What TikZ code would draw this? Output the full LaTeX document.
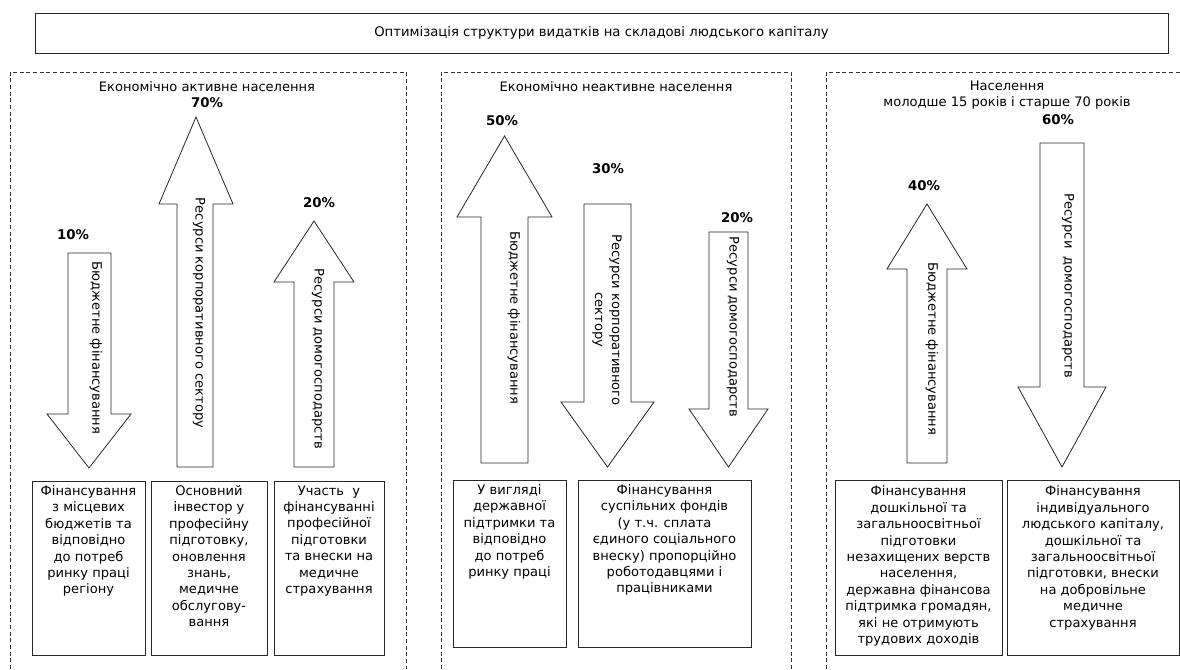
\documentclass[tikz,border=0pt]{standalone}
\usepackage{fontspec}
\setmainfont{DejaVu Sans}
\newcommand\myUp[7]{% shaft l, shaft r, head l, head r, tip y, head base y, bottom y
  \draw[arr] (#1,#7) -- (#1,#6) -- (#3,#6) -- ({(#3+#4)/2},#5) -- (#4,#6) -- (#2,#6) -- (#2,#7) -- cycle;}
\newcommand\myDown[7]{% shaft l, shaft r, head l, head r, tip y, head base y, top y
  \draw[arr] (#1,#7) -- (#1,#6) -- (#3,#6) -- ({(#3+#4)/2},#5) -- (#4,#6) -- (#2,#6) -- (#2,#7) -- cycle;}
\begin{document}
\begin{tikzpicture}[x=0.75pt,y=-0.75pt,
  line/.style={draw=black!85,line width=0.6pt},
  arr/.style={line,fill=white,line join=miter},
  grp/.style={draw=black!80,line width=0.6pt,dash pattern=on 3pt off 2pt},
  txt/.style={font={\fontsize{9.8}{12.3}\selectfont},inner sep=0pt,align=center,text=black},
  pct/.style={font={\fontsize{10}{12}\selectfont\bfseries},inner sep=0pt,text=black},
  vtxt/.style={txt,rotate=-90},
  box/.style={line,inner sep=0pt},
  btxt/.style={txt,anchor=north}]
\useasboundingbox (0,0) rectangle (1180,669);

% title
\node[line,minimum width=849.75pt,minimum height=30pt,inner sep=0pt,
  font={\fontsize{9.9}{11}\selectfont}] (title) at (601.5,33)
  {Оптимізація структури видатків на складові людського капіталу};

% dashed groups
\draw[grp] (10,669) -- (10,72) -- (406,72) -- (406,669);
\draw[grp] (441,669) -- (441,72) -- (791,72) -- (791,669);
\draw[grp] (826,669) -- (826,72) -- (1180,72);

% headers
\node[txt] (h1) at (207,87) {Економічно активне населення};
\node[txt] (h2) at (616,87) {Економічно неактивне населення};
\node[txt,font={\fontsize{9.8}{12}\selectfont}] (h3) at (1007,95) {Населення\\молодше 15 років і старше 70 років};

% arrows group 1
\myDown{68}{111}{47}{131}{468}{414}{253}
\myUp{177}{213}{159}{233}{117}{204}{467}
\myUp{294}{334}{274}{354}{221}{282}{467}
% arrows group 2
\myUp{481}{528}{457}{552}{136}{217}{463}
\myDown{584}{631}{561}{654}{467}{402}{204}
\myDown{709}{748}{689}{768}{467}{409}{232}
% arrows group 3
\myUp{907}{947}{887}{967}{204}{269}{463}
\myDown{1040}{1084}{1018}{1106}{467}{387}{143}

% percentages
\node[pct] (p1) at (73,235) {10\%};
\node[pct] (p2) at (207,103) {70\%};
\node[pct] (p3) at (319,203) {20\%};
\node[pct] (p4) at (502,121) {50\%};
\node[pct] (p5) at (608,169) {30\%};
\node[pct] (p6) at (737,218) {20\%};
\node[pct] (p7) at (924,186) {40\%};
\node[pct] (p8) at (1058,120) {60\%};

% arrow labels
\node[vtxt] (t1) at (96,348) {Бюджетне фінансування};
\node[vtxt] (t2) at (199,313) {Ресурси корпоративного сектору};
\node[vtxt] (t3) at (318,359) {Ресурси домогосподарств};
\node[vtxt] (t4) at (514,318) {Бюджетне фінансування};
\node[vtxt,font={\fontsize{9.8}{12.75}\selectfont}] (t5) at (607,320) {Ресурси корпоративного\\сектору};
\node[vtxt] (t6) at (733,327) {Ресурси домогосподарств};
\node[vtxt] (t7) at (932,349) {Бюджетне фінансування};
\node[vtxt] (t8) at (1068,286) {Ресурси\ \ домогосподарств};

% bottom boxes
\node[box,minimum width=84.75pt,minimum height=130.5pt] (bA) at (88.5,568) {};
\node[box,minimum width=87pt,minimum height=130.5pt] (bB) at (209,568) {};
\node[box,minimum width=82.5pt,minimum height=130.5pt] (bC) at (329,568) {};
\node[box,minimum width=84.75pt,minimum height=125.25pt] (bD) at (509.5,563.5) {};
\node[box,minimum width=129.75pt,minimum height=125.25pt] (bE) at (664.5,563.5) {};
\node[box,minimum width=125.25pt,minimum height=131.25pt] (bF) at (918.5,567.5) {};
\node[box,minimum width=129pt,minimum height=131.25pt] (bG) at (1093,567.5) {};

\node[btxt] (xA) at ([yshift=-3.5pt]bA.north) {Фінансування\\з місцевих\\бюджетів та\\відповідно\\до потреб\\ринку праці\\регіону};
\node[btxt] (xB) at ([yshift=-3.5pt]bB.north) {Основний\\інвестор у\\професійну\\підготовку,\\оновлення\\знань,\\медичне\\обслугову-\\вання};
\node[btxt] (xC) at ([yshift=-3.5pt]bC.north) {Участь\ \ у\\фінансуванні\\професійної\\підготовки\\та внески на\\медичне\\страхування};
\node[btxt] (xD) at ([yshift=-3.5pt]bD.north) {У вигляді\\державної\\підтримки та\\відповідно\\до потреб\\ринку праці};
\node[btxt] (xE) at ([yshift=-3.5pt]bE.north) {Фінансування\\суспільних фондів\\(у т.ч. сплата\\єдиного соціального\\внеску) пропорційно\\роботодавцями і\\працівниками};
\node[btxt] (xF) at ([yshift=-4.5pt]bF.north) {Фінансування\\дошкільної та\\загальноосвітньої\\підготовки\\незахищених верств\\населення,\\державна фінансова\\підтримка громадян,\\які не отримують\\трудових доходів};
\node[btxt] (xG) at ([yshift=-4.5pt]bG.north) {Фінансування\\індивідуального\\людського капіталу,\\дошкільної та\\загальноосвітньої\\підготовки, внески\\на добровільне\\медичне\\страхування};
\end{tikzpicture}
\end{document}
